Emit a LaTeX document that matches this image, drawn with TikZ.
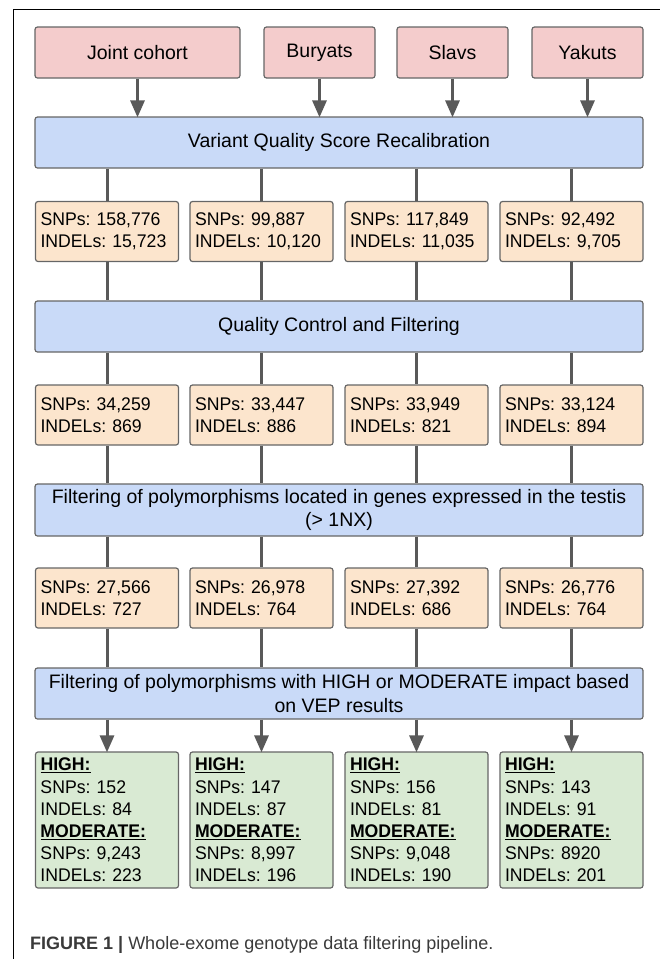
\documentclass[tikz,border=0pt]{standalone}
\usepackage{fontspec}
\setmainfont{Liberation Sans}
\newfontfamily\cntfont{Liberation Sans}[FakeStretch=0.965]
\usetikzlibrary{arrows.meta}
\definecolor{pinkf}{HTML}{F4CCCC}
\definecolor{bluef}{HTML}{C9DAF8}
\definecolor{orangef}{HTML}{FCE5CD}
\definecolor{greenf}{HTML}{D9EAD3}
\definecolor{edgec}{HTML}{666666}
\definecolor{linec}{HTML}{595959}
\definecolor{captc}{HTML}{3A3A3A}
\tikzset{
  basebox/.style={draw=edgec, line width=1.2pt, rounded corners=2.5pt, inner sep=0pt,
    font=\fontsize{19.5}{23.5}\selectfont},
  topbox/.style={basebox, fill=pinkf, minimum height=51pt},
  stagebox/.style={basebox, fill=bluef, minimum width=608pt, align=center},
  countbox/.style={basebox, fill=orangef, minimum height=60pt, inner xsep=5pt,
    text width=133pt, align=left, font=\cntfont\fontsize{18.3}{22.2}\selectfont},
  resultbox/.style={countbox, fill=greenf, minimum height=136pt},
  conn/.style={draw=linec, line width=3pt},
  arr/.style={conn, -{Triangle[width=14pt,length=17pt]}, shorten >=-1pt},
}
\newcommand{\hd}[1]{\underline{\textbf{#1}}}
\begin{document}
\frenchspacing
\begin{tikzpicture}[x=1pt,y=-1pt]
\useasboundingbox (0,0) rectangle (670,959);
\draw[line width=1pt] (13,959) -- (13,9.5) -- (660,9.5);
% top row
\node[topbox, minimum width=205pt] (jc) at (137.5,52.5) {Joint cohort};
\node[topbox, minimum width=111pt] (bu) at (319.5,52.5) {Buryats};
\node[topbox, minimum width=111pt] (sl) at (452.5,52.5) {Slavs};
\node[topbox, minimum width=111pt] (ya) at (587.5,52.5) {Yakuts};
% stages
\node[stagebox, minimum height=51pt] (vq) at (339,142.5) {Variant Quality Score Recalibration};
\node[stagebox, minimum height=51pt] (qc) at (339,326.5) {Quality Control and Filtering};
\node[stagebox, minimum height=52pt] (te) at (339,510) {Filtering of polymorphisms located in genes expressed in the testis\\(> 1NX)};
\node[stagebox, minimum height=51pt] (ve) at (339,693.5) {Filtering of polymorphisms with HIGH or MODERATE impact based\\on VEP results};
% row 1
\node[countbox] (a1) at (107,231.5) {SNPs: 158,776\\INDELs: 15,723};
\node[countbox] (a2) at (261.5,231.5) {SNPs: 99,887\\INDELs: 10,120};
\node[countbox] (a3) at (416.5,231.5) {SNPs: 117,849\\INDELs: 11,035};
\node[countbox] (a4) at (571.5,231.5) {SNPs: 92,492\\INDELs: 9,705};
% row 2
\node[countbox] (b1) at (107,415) {SNPs: 34,259\\INDELs: 869};
\node[countbox] (b2) at (261.5,415) {SNPs: 33,447\\INDELs: 886};
\node[countbox] (b3) at (416.5,415) {SNPs: 33,949\\INDELs: 821};
\node[countbox] (b4) at (571.5,415) {SNPs: 33,124\\INDELs: 894};
% row 3
\node[countbox] (c1) at (107,598) {SNPs: 27,566\\INDELs: 727};
\node[countbox] (c2) at (261.5,598) {SNPs: 26,978\\INDELs: 764};
\node[countbox] (c3) at (416.5,598) {SNPs: 27,392\\INDELs: 686};
\node[countbox] (c4) at (571.5,598) {SNPs: 26,776\\INDELs: 764};
% results
\node[resultbox] (d1) at (107,820) {\hd{HIGH:}\\SNPs: 152\\INDELs: 84\\\hd{MODERATE:}\\SNPs: 9,243\\INDELs: 223};
\node[resultbox] (d2) at (261.5,820) {\hd{HIGH:}\\SNPs: 147\\INDELs: 87\\\hd{MODERATE:}\\SNPs: 8,997\\INDELs: 196};
\node[resultbox] (d3) at (416.5,820) {\hd{HIGH:}\\SNPs: 156\\INDELs: 81\\\hd{MODERATE:}\\SNPs: 9,048\\INDELs: 190};
\node[resultbox] (d4) at (571.5,820) {\hd{HIGH:}\\SNPs: 143\\INDELs: 91\\\hd{MODERATE:}\\SNPs: 8920\\INDELs: 201};
% arrows from top
\foreach \s in {jc,bu,sl,ya} \draw[arr] (\s.south) -- (\s.south |- vq.north);
% plain connectors
\foreach \r in {a1,a2,a3,a4} {
  \draw[conn] (\r.north |- vq.south) -- (\r.north);
  \draw[conn] (\r.south) -- (\r.south |- qc.north);
}
\foreach \r in {b1,b2,b3,b4} {
  \draw[conn] (\r.north |- qc.south) -- (\r.north);
  \draw[conn] (\r.south) -- (\r.south |- te.north);
}
\foreach \r in {c1,c2,c3,c4} {
  \draw[conn] (\r.north |- te.south) -- (\r.north);
  \draw[conn] (\r.south) -- (\r.south |- ve.north);
}
\foreach \r in {d1,d2,d3,d4} \draw[arr] (\r.north |- ve.south) -- (\r.north);
% caption
\node[anchor=base west, inner sep=0pt, font=\fontsize{18}{21}\selectfont, text=captc] (cap) at (30,949)
  {\textbf{FIGURE 1 |} Whole-exome genotype data filtering pipeline.};
\end{tikzpicture}
\end{document}
